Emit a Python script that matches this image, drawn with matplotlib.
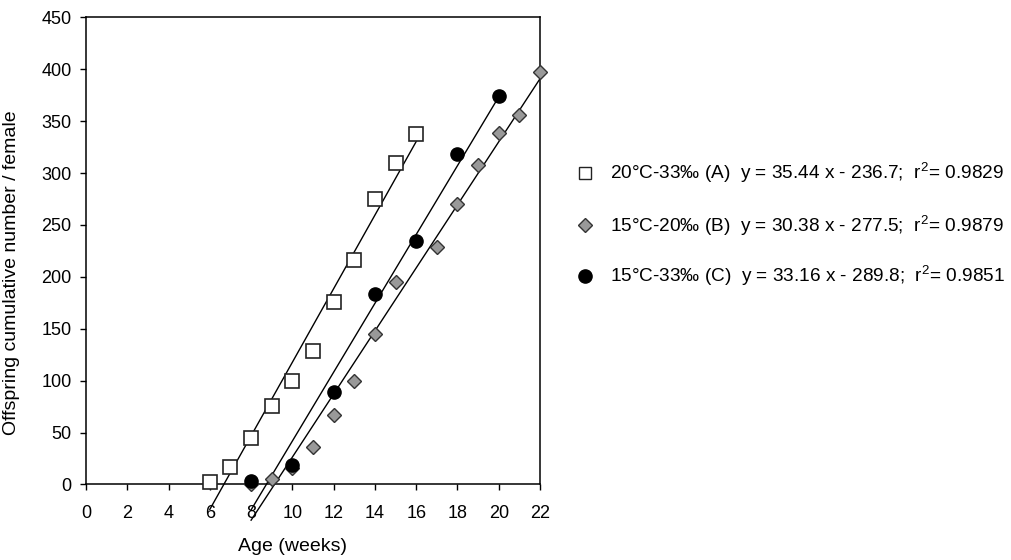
import matplotlib
matplotlib.use("Agg")
import matplotlib.pyplot as plt
import numpy as np
from matplotlib.lines import Line2D

plt.rcParams['font.family'] = ['Liberation Sans', 'DejaVu Sans']
plt.rcParams['mathtext.fontset'] = 'custom'
plt.rcParams['mathtext.rm'] = 'Liberation Sans'

# Data
age_a = [6, 7, 8, 9, 10, 11, 12, 13, 14, 15, 16]
off_a = [2, 17, 45, 76, 100, 129, 176, 216, 275, 310, 338]
age_b = [8, 9, 10, 11, 12, 13, 14, 15, 17, 18, 19, 20, 21, 22]
off_b = [0, 5, 16, 36, 67, 100, 145, 195, 229, 270, 308, 339, 356, 397]
age_c = [8, 10, 12, 14, 16, 18, 20]
off_c = [3, 19, 89, 183, 235, 318, 374]

fit_a = (35.44, -236.7)
fit_b = (30.38, -277.5)
fit_c = (33.16, -289.8)

labels = ["20\u00b0C-33\u2030 (A)  y = 35.44 x - 236.7;  r$^2$= 0.9829",
          "15\u00b0C-20\u2030 (B)  y = 30.38 x - 277.5;  r$^2$= 0.9879",
          "15\u00b0C-33\u2030 (C)  y = 33.16 x - 289.8;  r$^2$= 0.9851"]

xticks = list(range(0, 23, 2))
yticks = list(range(0, 451, 50))

fig = plt.figure(figsize=(10.12, 5.6), dpi=100)
ax = fig.add_axes([0.085, 0.135, 0.4486, 0.834])

def fitline(ages, fit):
    x = np.array([min(ages), max(ages)], dtype=float)
    return x, fit[0] * x + fit[1]

for ages, fit in [(age_a, fit_a), (age_b, fit_b), (age_c, fit_c)]:
    x, y = fitline(ages, fit)
    ax.plot(x, y, color='black', lw=1.0, zorder=2, clip_on=False)

ax.plot(age_b, off_b, linestyle='none', marker='D', markersize=7.5,
        markerfacecolor='#999999', markeredgecolor='#333333', markeredgewidth=1.0, zorder=3, clip_on=False)
ax.plot(age_c, off_c, linestyle='none', marker='o', markersize=9.5,
        markerfacecolor='black', markeredgecolor='black', zorder=4, clip_on=False)
ax.plot(age_a, off_a, linestyle='none', marker='s', markersize=9.5,
        markerfacecolor='white', markeredgecolor='#222222', markeredgewidth=1.2, zorder=5, clip_on=False)

ax.set_xlim(0, 22)
ax.set_ylim(0, 450)
ax.set_xticks(xticks)
ax.set_yticks(yticks)
ax.tick_params(direction='out', length=4.5, width=1, labelsize=13, colors='black')
ax.tick_params(axis='x', pad=10)
ax.tick_params(axis='y', pad=6)
for s in ['left', 'bottom', 'top', 'right']:
    ax.spines[s].set_linewidth(1.1)
ax.set_xlabel("Age (weeks)", fontsize=14)
ax.set_ylabel("Offspring cumulative number / female", fontsize=14)
ax.xaxis.set_label_coords(0.454, -0.115)
ax.yaxis.set_label_coords(-0.145, 0.454)

# legend, placed manually
row_y = [0.691, 0.598, 0.507]
mk_x = 0.578
txt_x = 0.603
styles = [
    dict(marker='s', markersize=9, markerfacecolor='white', markeredgecolor='#222222', markeredgewidth=1.0),
    dict(marker='D', markersize=7, markerfacecolor='#999999', markeredgecolor='#333333', markeredgewidth=1.0),
    dict(marker='o', markersize=9.5, markerfacecolor='black', markeredgecolor='black'),
]
for yy, st, lab in zip(row_y, styles, labels):
    fig.add_artist(Line2D([mk_x], [yy], linestyle='none', transform=fig.transFigure, **st))
    fig.text(txt_x, yy, lab, fontsize=13.7, va='center', ha='left')

fig.savefig("out.png", dpi=100)
